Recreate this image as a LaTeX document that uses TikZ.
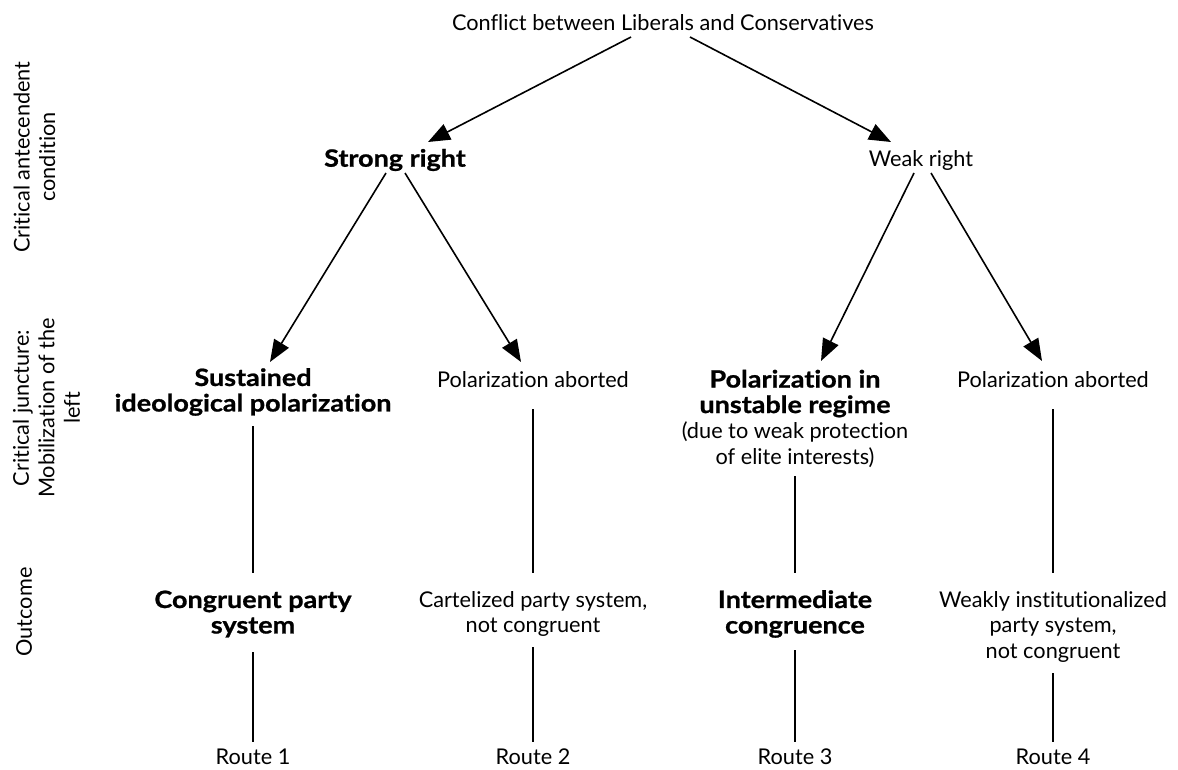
\documentclass[tikz,border=0pt]{standalone}
\usepackage{fontspec}
\setmainfont{Lato}[Ligatures=NoCommon]
\newfontfamily\bfnt{Lato}[Ligatures=NoCommon, Scale=1.1, BoldFeatures={FakeStretch=1.13, FakeBold=0.9}]
\newcommand{\B}[1]{{\bfnt\bfseries #1}}
\usetikzlibrary{arrows.meta,calc}
\tikzset{
  lbl/.style={inner sep=0pt, align=center, font=\fontsize{21.7}{25.5}\selectfont},
  side/.style={lbl, rotate=90},
  arr/.style={line width=1.6pt, -{Triangle[length=22pt,width=17pt]}},
  ln/.style={line width=1.6pt}
}
\begin{document}
\begin{tikzpicture}[x=1pt,y=-1pt]
\useasboundingbox (0,0) rectangle (1178,769);
% side labels
\node[side] (s1) at (34.5,157) {Critical antecendent\\condition};
\node[side] (s2) at (46.5,408) {Critical juncture:\\Mobilization of the\\left};
\node[side] (s3) at (24,612) {Outcome};
% nodes
\node[lbl] (top) at (663,23) {Conflict between Liberals and Conservatives};
\node[lbl] (strong) at (395,160) {\B{Strong right}};
\node[lbl] (weak) at (921,160) {Weak right};
\node[lbl] (sus) at (253,392) {\B{Sustained}\\\B{ideological polarization}};
\node[lbl] (pa1) at (533,380) {Polarization aborted};
\node[lbl] (pol) at (795,418.5) {\B{Polarization in}\\\B{unstable regime}\\(due to weak protection\\of elite interests)};
\node[lbl] (pa2) at (1053,380) {Polarization aborted};
\node[lbl] (cong) at (253,614) {\B{Congruent party}\\\B{system}};
\node[lbl] (cart) at (533,614) {Cartelized party system,\\not congruent};
\node[lbl] (inter) at (795,614) {\B{Intermediate}\\\B{congruence}};
\node[lbl] (weakly) at (1053,626.5) {Weakly institutionalized\\party system,\\not congruent};
\node[lbl] (r1) at (253,757) {Route 1};
\node[lbl] (r2) at (533,757) {Route 2};
\node[lbl] (r3) at (795,757) {Route 3};
\node[lbl] (r4) at (1053,757) {Route 4};
% arrows
\draw[arr] ($(top)+(-32,14)$) -- ($(strong)+(33,-18)$);
\draw[arr] ($(top)+(27,14)$) -- ($(weak)+(-30,-18)$);
\draw[arr] ($(strong)+(-9,13)$) -- ($(sus)+(17,-30)$);
\draw[arr] ($(strong)+(10,13)$) -- ($(pa1)+(-12,-18)$);
\draw[arr] ($(weak)+(-7,13)$) -- ($(pol)+(26,-57.5)$);
\draw[arr] ($(weak)+(10,13)$) -- ($(pa2)+(-11,-19)$);
% vertical lines
\draw[ln] ($(sus)+(0,34)$) -- ($(cong)+(0,-41)$);
\draw[ln] ($(cong)+(0,38)$) -- ($(r1)+(0,-15)$);
\draw[ln] ($(pa1)+(0,29)$) -- ($(cart)+(0,-41)$);
\draw[ln] ($(cart)+(0,33)$) -- ($(r2)+(0,-15)$);
\draw[ln] ($(pol)+(0,57.5)$) -- ($(inter)+(0,-41)$);
\draw[ln] ($(inter)+(0,36)$) -- ($(r3)+(0,-15)$);
\draw[ln] ($(pa2)+(0,29)$) -- ($(weakly)+(0,-53.5)$);
\draw[ln] ($(weakly)+(0,46.5)$) -- ($(r4)+(0,-15)$);
\end{tikzpicture}
\end{document}
